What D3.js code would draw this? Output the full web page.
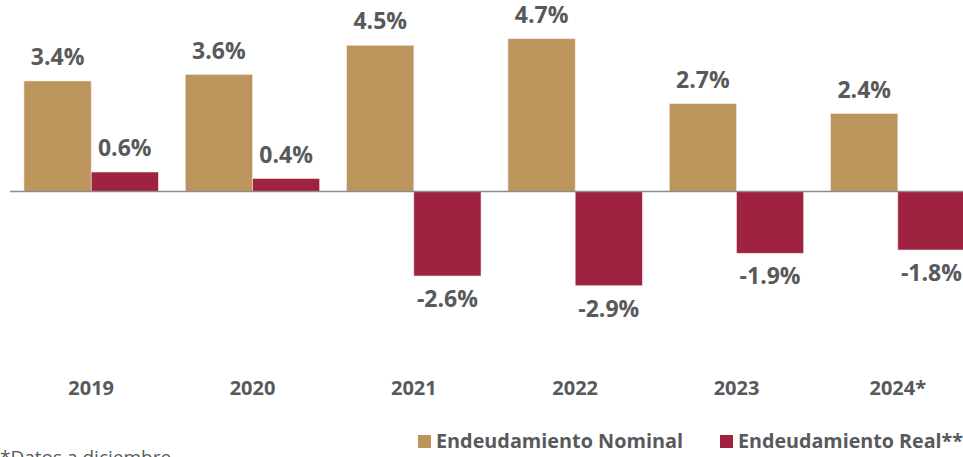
<!DOCTYPE html>
<html>
<head>
<meta charset="utf-8">
<script src="https://cdn.jsdelivr.net/npm/d3@7"></script>
<style>
  body { margin: 0; background: #fff; }
  text { font-family: "Open Sans", "Noto Sans", sans-serif; }
</style>
</head>
<body>
<div id="chart"></div>
<script>

const years = ["2019", "2020", "2021", "2022", "2023", "2024*"];
const nominal = [3.4, 3.6, 4.5, 4.7, 2.7, 2.4];
const real = [0.6, 0.4, -2.6, -2.9, -1.9, -1.8];
const seriesNames = ["Endeudamiento Nominal", "Endeudamiento Real**"];
const seriesColors = ["#BB955C", "#9F2241"];
const footnote = "*Datos a diciembre";

const W = 963, H = 457;
const textColor = "#58595B";

let svg = d3.select("#chart").append("svg")
    .attr("width", W)
    .attr("height", H);

// band for each year, then a sub-band for the two series
let x = d3.scaleBand()
    .domain(years)
    .range([10.5, 978.5])
    .paddingInner(0.167)
    .paddingOuter(0.0835);

let x1 = d3.scaleBand()
    .domain([0, 1])
    .range([0, x.bandwidth()]);

let y = d3.scaleLinear()
    .domain([-3, 5])
    .range([289, 29]);

let data = years.map((yr, i) => [
    {year: yr, s: 0, v: nominal[i]},
    {year: yr, s: 1, v: real[i]}
]).flat();

// bars
svg.append("g").selectAll("rect")
    .data(data)
    .join("rect")
    .attr("x", d => x(d.year) + x1(d.s))
    .attr("width", x1.bandwidth())
    .attr("y", d => y(Math.max(0, d.v)))
    .attr("height", d => Math.abs(y(d.v) - y(0)))
    .attr("fill", d => seriesColors[d.s])
    .attr("stroke", "#f3e6e0")
    .attr("stroke-width", 0.6);

// zero line
svg.append("line")
    .attr("x1", 10)
    .attr("x2", W)
    .attr("y1", y(0))
    .attr("y2", y(0))
    .attr("stroke", "#8c8c8c")
    .attr("stroke-width", 1.3);

// value labels
svg.append("g").selectAll("text")
    .data(data)
    .join("text")
    .attr("x", d => x(d.year) + x1(d.s) + x1.bandwidth() / 2)
    .attr("y", d => d.v >= 0 ? y(d.v) - 16 : y(d.v) + 31)
    .attr("text-anchor", "middle")
    .attr("font-size", 23)
    .attr("font-weight", "bold")
    .attr("fill", textColor)
    .text(d => d.v.toFixed(1) + "%");

// year labels
svg.append("g").selectAll("text")
    .data(years)
    .join("text")
    .attr("x", d => x(d) + x.bandwidth() / 2)
    .attr("y", 395)
    .attr("text-anchor", "middle")
    .attr("font-size", 20)
    .attr("font-weight", "bold")
    .attr("fill", textColor)
    .text(d => d);

// legend
let legendX = [418, 720];
let legend = svg.append("g").selectAll("g")
    .data(seriesNames)
    .join("g")
    .attr("transform", (d, i) => "translate(" + legendX[i] + ",435)");

legend.append("rect")
    .attr("width", 13)
    .attr("height", 13)
    .attr("fill", (d, i) => seriesColors[i]);

legend.append("text")
    .attr("x", 18)
    .attr("y", 13)
    .attr("font-size", 19)
    .attr("font-weight", "bold")
    .attr("fill", textColor)
    .attr("textLength", (d, i) => i === 0 ? 247 : 225)
    .attr("lengthAdjust", "spacingAndGlyphs")
    .text(d => d);

// footnote, cut by the bottom edge like the original
svg.append("text")
    .attr("x", 0)
    .attr("y", 464)
    .attr("font-size", 19)
    .attr("fill", textColor)
    .text(footnote);

</script>
</body>
</html>
